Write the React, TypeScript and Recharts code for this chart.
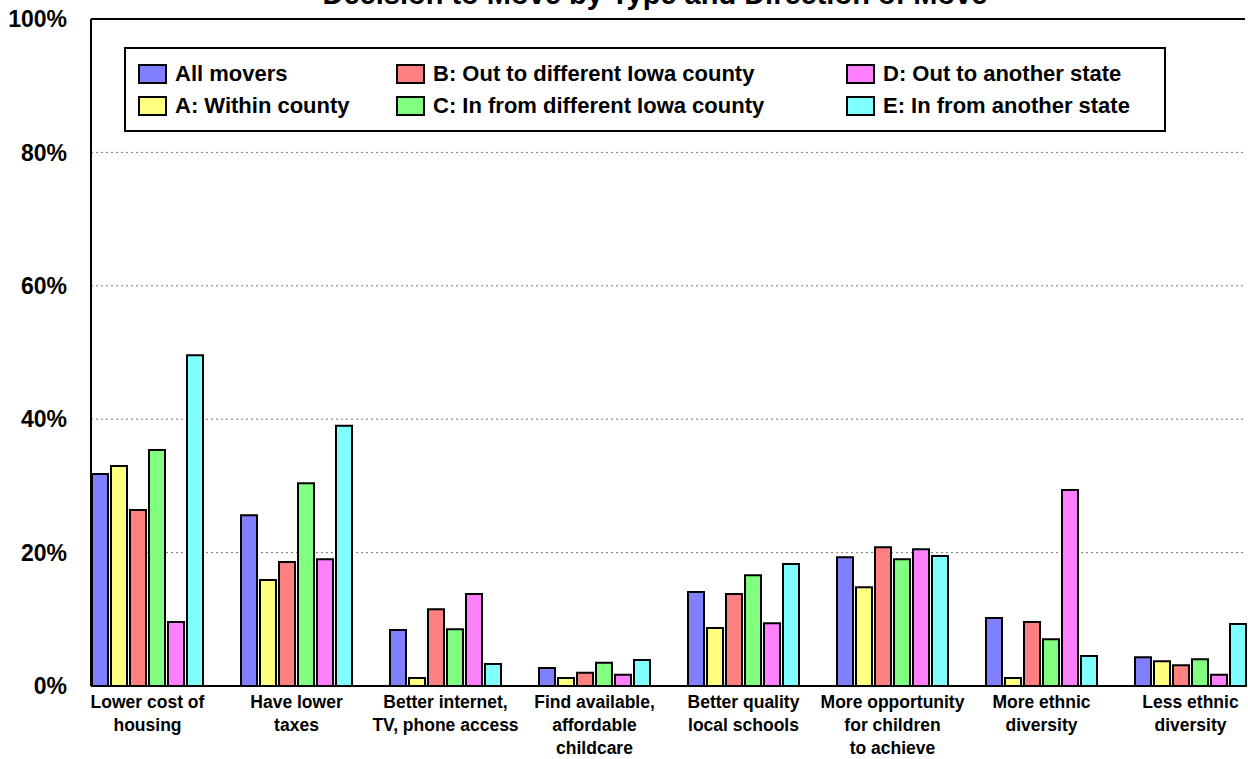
import {
  BarChart,
  Bar,
  XAxis,
  YAxis,
  CartesianGrid,
  Legend,
  ReferenceLine,
} from 'recharts'

const categories = [
  'Lower cost of\nhousing',
  'Have lower\ntaxes',
  'Better internet,\nTV, phone access',
  'Find available,\naffordable\nchildcare',
  'Better quality\nlocal schools',
  'More opportunity\nfor children\nto achieve',
  'More ethnic\ndiversity',
  'Less ethnic\ndiversity',
]

const allMovers = [31.8, 25.6, 8.4, 2.7, 14.1, 19.3, 10.2, 4.3]
const withinCounty = [33.0, 15.9, 1.2, 1.2, 8.7, 14.8, 1.2, 3.7]
const outIowaCounty = [26.4, 18.6, 11.5, 2.0, 13.8, 20.8, 9.6, 3.1]
const inIowaCounty = [35.4, 30.4, 8.5, 3.5, 16.6, 19.0, 7.0, 4.0]
const outState = [9.6, 19.0, 13.8, 1.7, 9.4, 20.5, 29.4, 1.7]
const inState = [49.6, 39.0, 3.3, 3.9, 18.3, 19.5, 4.5, 9.3]

const yTicks = [0, 20, 40, 60, 80, 100]

const series = [
  { key: 'all', name: 'All movers', color: '#8080FF', values: allMovers },
  { key: 'a', name: 'A: Within county', color: '#FFFF80', values: withinCounty },
  { key: 'b', name: 'B: Out to different Iowa county', color: '#FF8080', values: outIowaCounty },
  { key: 'c', name: 'C: In from different Iowa county', color: '#80FF80', values: inIowaCounty },
  { key: 'd', name: 'D: Out to another state', color: '#FF80FF', values: outState },
  { key: 'e', name: 'E: In from another state', color: '#80FFFF', values: inState },
]

const data = categories.map((name, i) => {
  const row: Record<string, string | number> = { name }
  series.forEach((s) => {
    row[s.key] = s.values[i]
  })
  return row
})

const FONT = '"Liberation Sans", Arial, sans-serif'

function CategoryTick(props: any) {
  const { x, y, payload } = props
  const lines = String(payload.value).split('\n')
  return (
    <text
      x={x}
      y={y}
      textAnchor="middle"
      fill="#000"
      fontFamily={FONT}
      fontWeight="bold"
      fontSize={17.5}
    >
      {lines.map((line, i) => (
        <tspan key={i} x={x} dy={i === 0 ? 22 : 23}>
          {line}
        </tspan>
      ))}
    </text>
  )
}

function LegendBox() {
  const colX = [14, 272, 722]
  const rowY = [27, 59]
  return (
    <div
      style={{
        position: 'relative',
        width: 1042,
        height: 85,
        border: '2px solid #000',
        boxSizing: 'border-box',
        background: '#fff',
        fontFamily: FONT,
        fontWeight: 'bold',
        fontSize: 22,
      }}
    >
      {series.map((s, i) => {
        const col = Math.floor(i / 2)
        const row = i % 2
        return (
          <div
            key={s.key}
            style={{
              position: 'absolute',
              left: colX[col] - 2,
              top: rowY[row] - 2 - 13,
              height: 26,
              display: 'flex',
              alignItems: 'center',
              whiteSpace: 'nowrap',
            }}
          >
            <span
              style={{
                display: 'inline-block',
                width: 25,
                height: 16,
                background: s.color,
                border: '2px solid #000',
                marginRight: 8,
              }}
            />
            {s.name}
          </div>
        )
      })}
    </div>
  )
}

export default function App() {
  return (
    <div style={{ position: 'absolute', left: 0, top: 0, width: 1248, height: 759, background: '#fff' }}>
      <div
        style={{
          position: 'absolute',
          left: 0,
          width: 1310,
          top: -24,
          textAlign: 'center',
          fontFamily: FONT,
          fontWeight: 'bold',
          fontSize: 29,
          lineHeight: '36px',
          whiteSpace: 'nowrap',
        }}
      >
        Decision to Move by Type and Direction of Move
      </div>
      <BarChart
        width={1248}
        height={759}
        data={data}
        margin={{ top: 19, right: 3, bottom: 3, left: 31 }}
        barSize={16}
        barGap={3}
      >
        <CartesianGrid vertical={false} strokeDasharray="2 3" stroke="#777" />
        <XAxis
          dataKey="name"
          interval={0}
          height={70}
          padding={{ left: -18, right: -20 }}
          tickLine={false}
          tickSize={0}
          tickMargin={0}
          axisLine={{ stroke: '#000', strokeWidth: 2 }}
          tick={<CategoryTick />}
        />
        <YAxis
          domain={[0, 100]}
          ticks={yTicks}
          width={60}
          tickLine={false}
          tickSize={0}
          tickMargin={24}
          axisLine={{ stroke: '#000', strokeWidth: 2 }}
          tickFormatter={(v) => `${v}%`}
          tick={{ fill: '#000', fontFamily: FONT, fontWeight: 'bold', fontSize: 23 }}
        />
        <YAxis
          yAxisId="right"
          orientation="right"
          domain={[0, 100]}
          width={0}
          tick={false}
          tickLine={false}
          axisLine={{ stroke: '#000', strokeWidth: 2 }}
        />
        <ReferenceLine y={100} stroke="#000" strokeWidth={2} />
        <Legend
          verticalAlign="middle"
          align="center"
          layout="horizontal"
          wrapperStyle={{ left: 124, top: 47, width: 1042, height: 85 }}
          content={() => <LegendBox />}
        />
        {series.map((s) => (
          <Bar
            key={s.key}
            dataKey={s.key}
            name={s.name}
            fill={s.color}
            stroke="#000"
            strokeWidth={2}
            isAnimationActive={false}
          />
        ))}
      </BarChart>
    </div>
  )
}
